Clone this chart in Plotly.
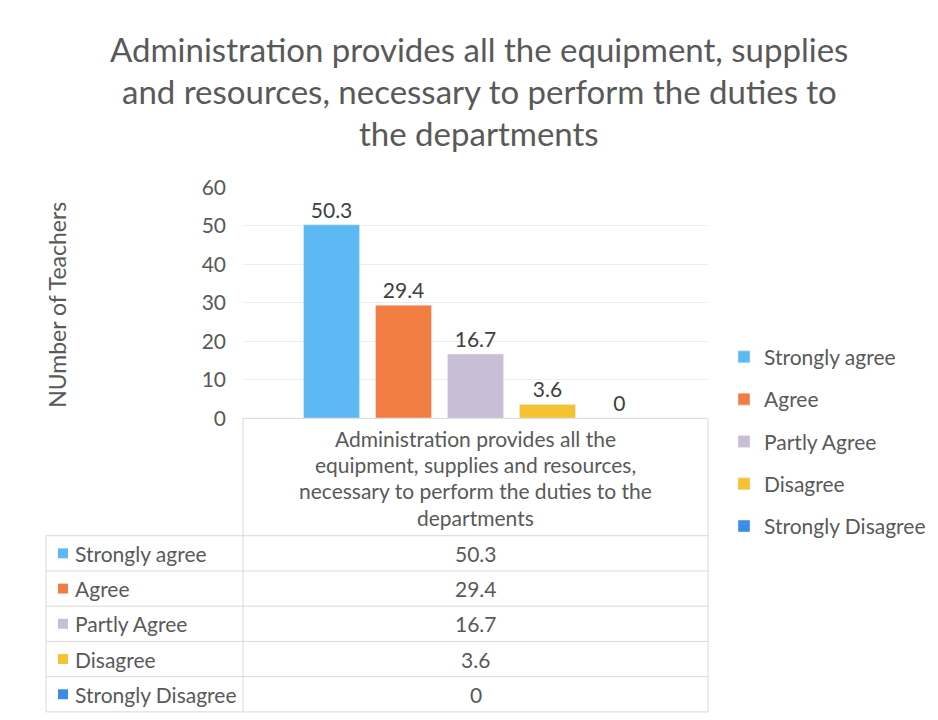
import plotly.graph_objects as go

# ---- data ----
title_lines = [
    "Administration provides all the equipment, supplies",
    "and resources, necessary to perform the duties to",
    "the departments",
]
category_lines = [
    "Administration provides all the",
    "equipment, supplies and resources,",
    "necessary to perform the duties to the",
    "departments",
]
category = " ".join(category_lines)
series_names = ["Strongly agree", "Agree", "Partly Agree", "Disagree", "Strongly Disagree"]
series_values = [50.3, 29.4, 16.7, 3.6, 0]
series_colors = ["#5DB9F4", "#F27D42", "#C8BED6", "#F6C232", "#3D8CE6"]
y_ticks = [0, 10, 20, 30, 40, 50, 60]
y_title = "NUmber of Teachers"

# ---- layout helpers (target pixel -> paper) ----
OFF = 8
W, H = 938, 720
A_Y, B_Y = 0.97, 10.0
def px(x):
    return (x - OFF) / W
def py(y):
    return 1 - ((y - B_Y) / A_Y - OFF) / H

FONT = "Lato"
GRAY = "#595959"
LINE = "#D9D9D9"
FS = 21

plot_left, plot_right = 243, 708
plot_top, plot_bottom = 184, 416
table_left = 46
header_bottom = 534
row_h = 35.4

fig = go.Figure()
for name, val, col in zip(series_names, series_values, series_colors):
    fig.add_trace(go.Bar(
        x=[category], y=[val], name=name, marker_color=col,
        text=[val], texttemplate="%{y}", textposition="outside",
        textfont=dict(size=FS, color="#404040", family=FONT),
        cliponaxis=False, legendgroup=name,
    ))

shapes = []
def hline(x0, x1, y):
    shapes.append(dict(type="line", xref="paper", yref="paper", x0=px(x0), x1=px(x1),
                       y0=py(y), y1=py(y), line=dict(color=LINE, width=1)))
def vline(x, y0, y1):
    shapes.append(dict(type="line", xref="paper", yref="paper", x0=px(x), x1=px(x),
                       y0=py(y0), y1=py(y1), line=dict(color=LINE, width=1)))

hline(plot_left, plot_right, plot_bottom)
for i in range(len(series_names) + 1):
    hline(table_left, plot_right, header_bottom + i * row_h)
table_bottom = header_bottom + len(series_names) * row_h
vline(plot_left, plot_bottom, table_bottom)
vline(plot_right, plot_bottom, table_bottom)
vline(table_left, header_bottom, table_bottom)

annotations = []
# title lines
for i, t in enumerate(title_lines):
    annotations.append(dict(text=t, xref="paper", yref="paper", x=px(479), y=py(45 + i * 42),
                            showarrow=False, xanchor="center", yanchor="middle",
                            font=dict(size=33, color=GRAY, family=FONT)))
# y-axis title
annotations.append(dict(text=y_title, xref="paper", yref="paper", x=px(57), y=py(302),
                        showarrow=False, textangle=-90, xanchor="center", yanchor="middle",
                        font=dict(size=23, color=GRAY, family=FONT)))
# category header lines
cx = (plot_left + plot_right) / 2
for i, t in enumerate(category_lines):
    annotations.append(dict(text=t, xref="paper", yref="paper", x=px(cx), y=py(436 + i * 26.5),
                            showarrow=False, xanchor="center", yanchor="middle",
                            font=dict(size=FS, color=GRAY, family=FONT)))
# table rows
for i, (name, val, col) in enumerate(zip(series_names, series_values, series_colors)):
    yc = header_bottom + (i + 0.5) * row_h
    shapes.append(dict(type="rect", xref="paper", yref="paper", x0=px(58), x1=px(68),
                       y0=py(yc - 5), y1=py(yc + 5), fillcolor=col, line=dict(width=0)))
    annotations.append(dict(text=name, xref="paper", yref="paper", x=px(73), y=py(yc),
                            showarrow=False, xanchor="left", yanchor="middle",
                            font=dict(size=FS, color=GRAY, family=FONT)))
    annotations.append(dict(text=str(val), xref="paper", yref="paper", x=px(cx), y=py(yc),
                            showarrow=False, xanchor="center", yanchor="middle",
                            font=dict(size=FS, color=GRAY, family=FONT)))

fig.update_layout(
    width=W, height=H,
    margin=dict(l=0, r=0, t=0, b=0),
    paper_bgcolor="white", plot_bgcolor="white",
    font=dict(family=FONT, color=GRAY),
    barmode="group", bargap=0.226, bargroupgap=0.222,
    showlegend=True,
    legend=dict(x=px(724), y=py(334), xanchor="left", yanchor="top",
                font=dict(size=FS, color=GRAY, family=FONT),
                tracegroupgap=12, itemwidth=30, bgcolor="rgba(0,0,0,0)"),
    shapes=shapes, annotations=annotations,
    xaxis=dict(domain=[px(plot_left), px(plot_right)], showticklabels=False,
               showgrid=False, showline=False, zeroline=False, fixedrange=True),
    yaxis=dict(domain=[py(plot_bottom), py(plot_top)], range=[0, 60], tickvals=y_ticks,
               showgrid=True, gridcolor="#EDEDED", gridwidth=1, zeroline=False,
               showline=False, ticks="", ticklabelstandoff=16,
               tickfont=dict(size=FS, color=GRAY, family=FONT)),
)

fig.write_html("out.html")
